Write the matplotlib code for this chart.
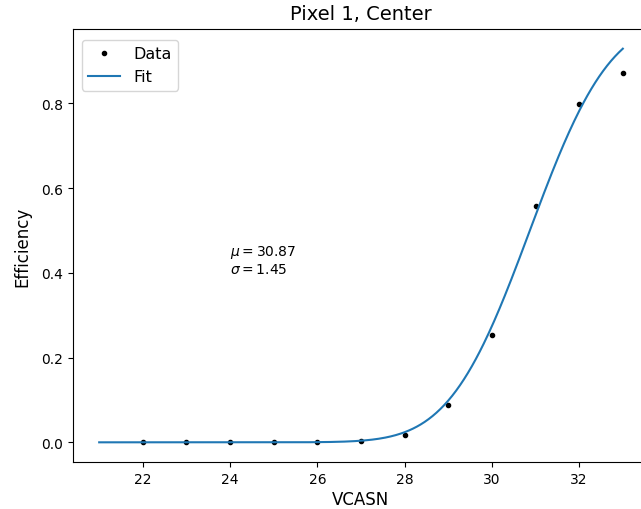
import numpy as np
import matplotlib
matplotlib.use("Agg")
import matplotlib.pyplot as plt
from math import erf, sqrt

vcasn = [22, 23, 24, 25, 26, 27, 28, 29, 30, 31, 32, 33]
efficiency = [0.0, 0.0, 0.0, 0.0, 0.0, 0.003, 0.018, 0.088, 0.254, 0.558, 0.798, 0.872]
mu = 30.87
sigma = 1.45
fit_range = (21, 33)

fig = plt.figure(figsize=(6.41, 5.10), dpi=100)
ax = fig.add_axes([73/641, 1 - 463/510, (649-73)/641, (463-30)/510])

xf = np.linspace(fit_range[0], fit_range[1], 400)
yf = np.array([0.5 * (1 + erf((x - mu) / (sigma * sqrt(2)))) for x in xf])

ax.plot(vcasn, efficiency, 'k.', label='Data')
ax.plot(xf, yf, color='#1f77b4', label='Fit')
ax.text(24, 0.4, f"$\\mu = {mu}$\n$\\sigma = {sigma}$", fontsize=10)
ax.set_xlabel('VCASN', fontsize=12, labelpad=3)
ax.set_ylabel('Efficiency', fontsize=12, labelpad=7)
ax.set_title('Pixel 1, Center', fontsize=14, pad=7)
ax.set_xticks([22, 24, 26, 28, 30, 32])
ax.legend(loc='upper left', fontsize=11.5, borderaxespad=0,
          bbox_to_anchor=(0.0156, 0.975))

fig.savefig('out.png', dpi=100)
